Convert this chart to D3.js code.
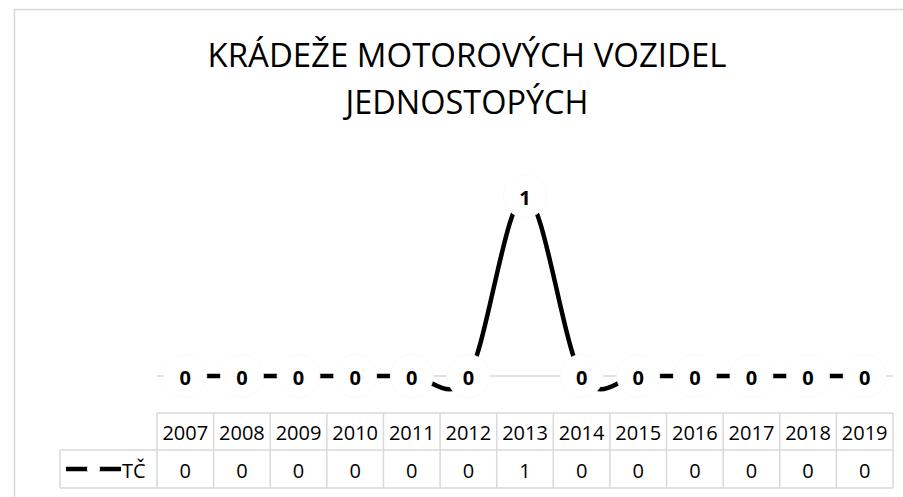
<!DOCTYPE html>
<html>
<head>
<meta charset="utf-8">
<script src="https://cdn.jsdelivr.net/npm/d3@7"></script>
<style>
  body { margin: 0; background: #fff; }
  svg { display: block; font-family: "Open Sans", "Noto Sans", sans-serif; }
</style>
</head>
<body>
<svg id="chart"></svg>
<script>
const titleLines = ["KRÁDEŽE MOTOROVÝCH VOZIDEL", "JEDNOSTOPÝCH"];
const years = ["2007", "2008", "2009", "2010", "2011", "2012", "2013", "2014", "2015", "2016", "2017", "2018", "2019"];
const values = [0, 0, 0, 0, 0, 0, 1, 0, 0, 0, 0, 0, 0];
const seriesName = "TČ";

class LineTableChart {
    plot = { left: 157, right: 893, top: 160, bottom: 376 };
    table = { legendLeft: 60, headTop: 413, rowTop: 450, bottom: 488 };
    gridColor = "#d9d9d9";

    constructor(svg, width = 903, height = 497) {
        this.svg = d3.select(svg);
        this.width = width;
        this.height = height;
    }

    initialize() {
        this.svg.attr("width", this.width).attr("height", this.height);

        // chart area border
        this.svg.append("rect")
            .attr("x", 14.5).attr("y", 9.5)
            .attr("width", 1000).attr("height", 1000)
            .attr("fill", "#fff")
            .attr("stroke", this.gridColor)
            .attr("stroke-width", 1.5);

        this.xScale = d3.scaleBand().domain(years).range([this.plot.left, this.plot.right]);
        this.yScale = d3.scaleLinear().domain([0, 1.2]).range([this.plot.bottom, this.plot.top]);

        this.title = this.svg.append("g");
        this.axis = this.svg.append("g");
        this.series = this.svg.append("g");
        this.grid = this.svg.append("g");
    }

    update() {
        const x = d => this.xScale(d) + this.xScale.bandwidth() / 2;
        const y = this.yScale;
        const t = this.table;

        this.title.selectAll("text")
            .data(titleLines)
            .join("text")
            .attr("x", 467)
            .attr("y", (d, i) => 67 + i * 47)
            .attr("text-anchor", "middle")
            .attr("font-size", 33)
            .attr("textLength", (d, i) => i === 0 ? 519 : 243)
            .attr("lengthAdjust", "spacingAndGlyphs")
            .attr("fill", "#000")
            .text(d => d);

        // horizontal axis line at 0
        this.axis.append("line")
            .attr("x1", this.plot.left).attr("x2", this.plot.right)
            .attr("y1", y(0)).attr("y2", y(0))
            .attr("stroke", this.gridColor)
            .attr("stroke-width", 1.5);

        const pts = years.map((yr, i) => ({ year: yr, value: values[i] }));

        const line = d3.line()
            .x(d => x(d.year))
            .y(d => y(d.value))
            .curve(d3.curveCardinal.tension(0));

        this.series.append("path")
            .datum(pts)
            .attr("d", line)
            .attr("fill", "none")
            .attr("stroke", "#000")
            .attr("stroke-width", 4.5);

        // white markers behind the labels
        this.series.selectAll("circle.marker")
            .data(pts)
            .join("circle")
            .attr("class", "marker")
            .attr("cx", d => x(d.year))
            .attr("cy", d => y(d.value))
            .attr("r", 21.5)
            .attr("fill", "#fff")
            .attr("stroke", "#f8f8f8")
            .attr("stroke-width", 0.75);

        this.series.selectAll("text.label")
            .data(pts)
            .join("text")
            .attr("class", "label")
            .attr("x", d => x(d.year))
            .attr("y", d => y(d.value) + 1)
            .attr("text-anchor", "middle")
            .attr("dominant-baseline", "central")
            .attr("font-size", 20)
            .attr("font-weight", "bold")
            .text(d => d.value);

        // data table
        const g = this.grid;
        const hLines = [
            [this.plot.left, this.plot.right, t.headTop],
            [t.legendLeft, this.plot.right, t.rowTop],
            [t.legendLeft, this.plot.right, t.bottom]
        ];
        g.selectAll("line.h")
            .data(hLines)
            .join("line")
            .attr("class", "h")
            .attr("x1", d => d[0]).attr("x2", d => d[1])
            .attr("y1", d => d[2]).attr("y2", d => d[2])
            .attr("stroke", this.gridColor)
            .attr("stroke-width", 1.5);

        const vx = years.map(yr => this.xScale(yr)).concat([this.plot.right]);
        g.selectAll("line.v")
            .data(vx)
            .join("line")
            .attr("class", "v")
            .attr("x1", d => d).attr("x2", d => d)
            .attr("y1", t.headTop).attr("y2", t.bottom)
            .attr("stroke", this.gridColor)
            .attr("stroke-width", 1.5);

        g.append("line")
            .attr("x1", t.legendLeft).attr("x2", t.legendLeft)
            .attr("y1", t.rowTop).attr("y2", t.bottom)
            .attr("stroke", this.gridColor)
            .attr("stroke-width", 1.5);

        const headY = (t.headTop + t.rowTop) / 2;
        const rowY = (t.rowTop + t.bottom) / 2;

        g.selectAll("text.year")
            .data(years)
            .join("text")
            .attr("class", "year")
            .attr("x", d => x(d))
            .attr("y", headY + 1)
            .attr("text-anchor", "middle")
            .attr("dominant-baseline", "central")
            .attr("font-size", 20)
            .text(d => d);

        g.selectAll("text.val")
            .data(pts)
            .join("text")
            .attr("class", "val")
            .attr("x", d => x(d.year))
            .attr("y", rowY + 1)
            .attr("text-anchor", "middle")
            .attr("dominant-baseline", "central")
            .attr("font-size", 20)
            .text(d => d.value);

        // legend key
        g.append("line")
            .attr("x1", 66).attr("x2", 121)
            .attr("y1", rowY).attr("y2", rowY)
            .attr("stroke", "#000")
            .attr("stroke-width", 4.5);
        g.append("circle")
            .attr("cx", 93.5).attr("cy", rowY)
            .attr("r", 6.5)
            .attr("fill", "#fff");
        g.append("text")
            .attr("x", 122)
            .attr("y", rowY + 1)
            .attr("dominant-baseline", "central")
            .attr("font-size", 20)
            .text(seriesName);
    }
}

const chart = new LineTableChart("#chart");
chart.initialize();
chart.update();
</script>
</body>
</html>
